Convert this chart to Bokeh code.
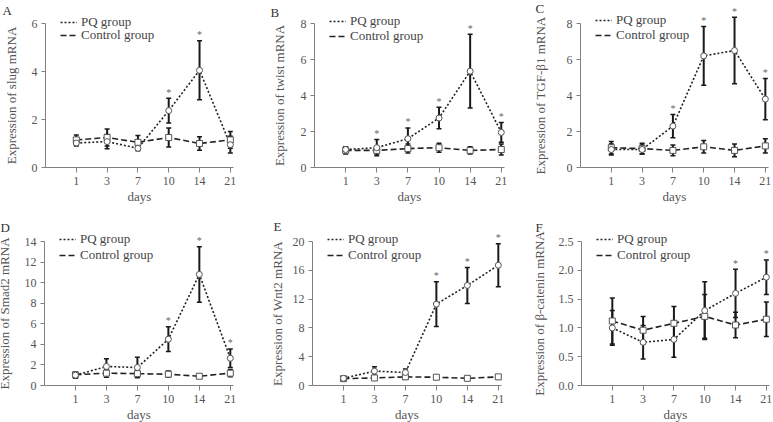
from bokeh.plotting import figure
from bokeh.layouts import column, row
from bokeh.models import (Range1d, FixedTicker, Whisker, TeeHead, ColumnDataSource,
                          Legend, LegendItem, Label, NumeralTickFormatter)
from bokeh.core.properties import value
from bokeh.embed import file_html
from bokeh.resources import INLINE

# ---------------- data ----------------
days = ["1", "3", "7", "10", "14", "21"]

slug_pq = [1.02, 1.08, 0.80, 2.37, 4.05, 0.95]
slug_pq_err = [0.12, 0.30, 0.10, 0.52, 1.23, 0.35]
slug_ctrl = [1.15, 1.25, 1.05, 1.25, 1.00, 1.15]
slug_ctrl_err = [0.20, 0.35, 0.28, 0.40, 0.28, 0.35]
slug_star = [0, 0, 0, 1, 1, 0]
slug_yticks = [0, 2, 4, 6]

twist_pq = [1.00, 1.10, 1.60, 2.75, 5.35, 1.95]
twist_pq_err = [0.15, 0.45, 0.60, 0.60, 2.05, 0.55]
twist_ctrl = [0.95, 0.95, 1.05, 1.10, 0.95, 1.00]
twist_ctrl_err = [0.20, 0.20, 0.25, 0.25, 0.20, 0.30]
twist_star = [0, 1, 1, 1, 1, 1]
twist_yticks = [0, 2, 4, 6, 8]

tgf_pq = [1.00, 1.00, 2.30, 6.20, 6.50, 3.80]
tgf_pq_err = [0.30, 0.25, 0.65, 1.63, 1.85, 1.15]
tgf_ctrl = [1.10, 1.05, 0.95, 1.15, 0.95, 1.20]
tgf_ctrl_err = [0.35, 0.30, 0.30, 0.35, 0.35, 0.40]
tgf_star = [0, 0, 1, 1, 1, 1]
tgf_yticks = [0, 2, 4, 6, 8]

smad_pq = [1.00, 1.85, 1.75, 4.50, 10.80, 2.65]
smad_pq_err = [0.30, 0.75, 1.00, 1.20, 2.70, 0.90]
smad_ctrl = [1.05, 1.20, 1.15, 1.10, 0.90, 1.20]
smad_ctrl_err = [0.25, 0.40, 0.35, 0.30, 0.20, 0.35]
smad_star = [0, 0, 0, 1, 1, 1]
smad_yticks = [0, 2, 4, 6, 8, 10, 12, 14]

wnt_pq = [1.00, 2.00, 1.80, 11.30, 13.90, 16.70]
wnt_pq_err = [0.20, 0.60, 0.50, 3.10, 2.50, 3.00]
wnt_ctrl = [0.95, 1.05, 1.20, 1.15, 1.00, 1.20]
wnt_ctrl_err = [0.20, 0.20, 0.30, 0.25, 0.20, 0.30]
wnt_star = [0, 0, 0, 1, 1, 1]
wnt_yticks = [0, 4, 8, 12, 16, 20]

bcat_pq = [1.00, 0.75, 0.80, 1.30, 1.60, 1.88]
bcat_pq_err = [0.30, 0.29, 0.31, 0.50, 0.42, 0.30]
bcat_ctrl = [1.12, 0.96, 1.08, 1.20, 1.05, 1.15]
bcat_ctrl_err = [0.40, 0.24, 0.29, 0.38, 0.22, 0.30]
bcat_star = [0, 0, 0, 0, 1, 1]
bcat_yticks = [0.0, 0.5, 1.0, 1.5, 2.0, 2.5]

legend_labels = ["PQ group", "Control group"]
x_label = "days"

panels = [
    ("A", "Expression of slug mRNA", slug_pq, slug_pq_err, slug_ctrl, slug_ctrl_err, slug_star, slug_yticks),
    ("B", "Expression of twist mRNA", twist_pq, twist_pq_err, twist_ctrl, twist_ctrl_err, twist_star, twist_yticks),
    ("C", "Expression of TGF-β1 mRNA", tgf_pq, tgf_pq_err, tgf_ctrl, tgf_ctrl_err, tgf_star, tgf_yticks),
    ("D", "Expression of Smad2 mRNA", smad_pq, smad_pq_err, smad_ctrl, smad_ctrl_err, smad_star, smad_yticks),
    ("E", "Expression of Wnt2 mRNA", wnt_pq, wnt_pq_err, wnt_ctrl, wnt_ctrl_err, wnt_star, wnt_yticks),
    ("F", "Expression of β-catenin mRNA", bcat_pq, bcat_pq_err, bcat_ctrl, bcat_ctrl_err, bcat_star, bcat_yticks),
]

# ---------------- layout / style ----------------
FONT = "Liberation Serif"
TXT = "#555555"
AX = "#808080"
X_END = 6.2
# width, y-axis px from panel left, right margin, height, x-axis px from panel bottom,
# ylabel standoff, letter dx from y-axis (px), letter baseline from top (px),
# legend row centres (px from top)
geom = [
    (255, 45, 19, 205, 38, 10, -43, 10, (20, 33.5)),
    (255, 59, 3, 205, 38, 11, -44, 12, (19, 34)),
    (263, 70, 2, 205, 38, 16, -45, 8, (18.5, 33)),
    (255, 44, 19, 217, 37, 10, -44, 22, (32, 48)),
    (255, 57, 6, 217, 37, 5, -39, 21, (32.5, 48)),
    (263, 71, 1, 217, 37, 9, -46, 22, (32.5, 48)),
]

xs = list(range(1, len(days) + 1))


def make_panel(info, g):
    letter, ylab, pq, pq_err, ct, ct_err, star, yticks = info
    w, left, right, h, bottom, ylab_so, lx, lbase, lrows = g
    s = (w - left - right) / X_END          # px per category step
    ymax = yticks[-1]
    py = 144.0 / ymax                       # px per y unit
    p = figure(width=w, height=h, output_backend="svg", toolbar_location=None,
               x_range=Range1d(-left / s, X_END + right / s),
               y_range=Range1d(-bottom / py, (h - bottom) / py),
               min_border=0)
    p.outline_line_color = None
    p.grid.visible = False
    p.background_fill_color = "white"

    # axes (drawn at the data origin)
    for ax in (p.xaxis[0], p.yaxis[0]):
        ax.fixed_location = 0
        ax.axis_line_color = AX
        ax.major_tick_line_color = AX
        ax.minor_tick_line_color = None
        ax.major_tick_in = 0
        ax.major_label_text_font = FONT
        ax.major_label_text_font_size = "12px"
        ax.major_label_text_color = TXT
        ax.axis_label_text_font = FONT
        ax.axis_label_text_font_size = "13px"
        ax.axis_label_text_font_style = "normal"
        ax.axis_label_text_color = TXT
    p.xaxis.bounds = (0, 6.1)
    p.xaxis.ticker = FixedTicker(ticks=xs)
    p.xaxis.major_label_overrides = {x: d for x, d in zip(xs, days)}
    p.xaxis.major_tick_out = 5
    p.xaxis.major_label_standoff = 4
    p.xaxis.axis_label = x_label
    p.xaxis.axis_label_standoff = 1
    p.yaxis.bounds = (0, ymax)
    p.yaxis.ticker = FixedTicker(ticks=yticks)
    p.yaxis.major_tick_out = 4
    p.yaxis.major_label_standoff = 4
    p.yaxis.axis_label = ylab
    p.yaxis.axis_label_standoff = ylab_so
    if isinstance(yticks[0], float):
        p.yaxis.formatter = NumeralTickFormatter(format="0.0")

    # error bars
    for vals, errs in ((ct, ct_err), (pq, pq_err)):
        src = ColumnDataSource(dict(x=xs, upper=[v + e for v, e in zip(vals, errs)],
                                    lower=[v - e for v, e in zip(vals, errs)]))
        wk = Whisker(base="x", upper="upper", lower="lower", source=src,
                     line_color="#1a1a1a", line_width=2, level="underlay",
                     upper_head=TeeHead(size=5, line_color="#1a1a1a", line_width=1.5),
                     lower_head=TeeHead(size=5, line_color="#1a1a1a", line_width=1.5))
        p.add_layout(wk)

    # lines
    r_ct = p.line(xs, ct, line_color="#222222", line_width=1.6, line_dash="6 3")
    r_pq = p.line(xs, pq, line_color="#222222", line_width=1.6, line_dash="2 2")
    p.scatter(xs, ct, marker="square", size=6, fill_color="white", line_color="#555555", line_width=1)
    p.scatter(xs, pq, marker="circle", size=6, fill_color="white", line_color="#555555", line_width=1)

    # asterisks
    sx = [x for x, st in zip(xs, star) if st]
    sy = [v + e for v, e, st in zip(pq, pq_err, star) if st]
    p.text(sx, sy, text=["*"] * len(sx), text_font=value(FONT), text_font_size="10px",
           text_color="#666666", text_align="center", text_baseline="middle", y_offset=-6)

    # legends (one per row, line samples only)
    for lbl, rend, c in zip(legend_labels, (r_pq, r_ct), lrows):
        leg = Legend(items=[LegendItem(label=lbl, renderers=[rend])],
                     location=(left + 15, h - c - 9.5), orientation="vertical",
                     border_line_color=None, background_fill_alpha=0, padding=0, margin=0,
                     spacing=0, glyph_width=17, glyph_height=12, label_height=12,
                     label_standoff=4, label_text_font=FONT, label_text_font_size="13px",
                     label_text_color="#444444")
        p.add_layout(leg)

    # panel letter, left of the y-axis
    lab = Label(x=lx / s, y=(h - bottom - lbase) / py, text=letter,
                text_font=FONT, text_font_size="13px", text_color="#333333",
                text_baseline="alphabetic")
    p.add_layout(lab)
    return p


figs = [make_panel(inf, g) for inf, g in zip(panels, geom)]
layout = column(row(*figs[:3]), row(*figs[3:]))

open("out.html", "w").write(file_html(layout, INLINE))
